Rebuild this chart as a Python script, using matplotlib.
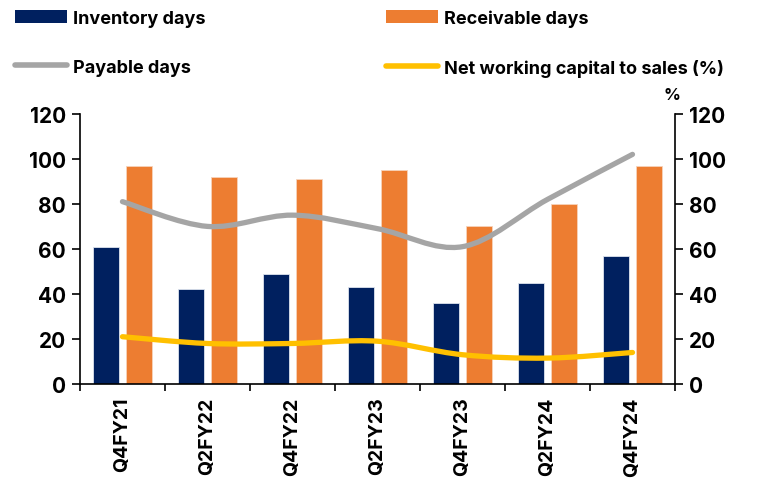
import numpy as np
import matplotlib
matplotlib.use("Agg")
import matplotlib.pyplot as plt
from matplotlib.path import Path
from matplotlib.patches import PathPatch, Patch
from matplotlib.lines import Line2D

# -----------------------------
# DATA
# -----------------------------
quarters = ["Q4FY21", "Q2FY22", "Q4FY22", "Q2FY23", "Q4FY23", "Q2FY24", "Q4FY24"]
inventory_days = [61, 42, 49, 43, 36, 45, 57]
receivable_days = [97, 92, 91, 95, 70, 80, 97]
payable_days = [81, 70, 75, 69, 61, 82, 102]
nwc_to_sales = [21, 18, 18, 19, 13, 11.5, 14]

NAVY = "#00205F"
ORANGE = "#ED7D31"
GRAY = "#A5A5A5"
YELLOW = "#FFC000"
HEAVY = "bold"

plt.rcParams["font.family"] = ["Inter", "DejaVu Sans"]
plt.rcParams["font.weight"] = HEAVY


def smooth_path(xs, ys):
    # Catmull-Rom style bezier through the points (like a spreadsheet "smoothed line")
    pts = np.column_stack([xs, ys]).astype(float)
    n = len(pts)
    verts = [pts[0]]
    codes = [Path.MOVETO]
    for i in range(n - 1):
        p0 = pts[i - 1] if i > 0 else pts[i]
        p1 = pts[i]
        p2 = pts[i + 1]
        p3 = pts[i + 2] if i + 2 < n else pts[i + 1]
        c1 = p1 + (p2 - p0) / 6.0
        c2 = p2 - (p3 - p1) / 6.0
        verts += [c1, c2, p2]
        codes += [Path.CURVE4] * 3
    return Path(verts, codes)


fig = plt.figure(figsize=(7.58, 4.85), dpi=100)
ax = fig.add_axes([0.1055, 0.2062, 0.785, 0.557])
ax2 = ax.twinx()

x = np.arange(len(quarters))
w = 0.30
ax.bar(x - 0.195, inventory_days, w, color=NAVY, edgecolor="#DDE3EE", linewidth=0.6)
ax.bar(x + 0.195, receivable_days, w, color=ORANGE, edgecolor="#F7D3BA", linewidth=0.6)

ax.add_patch(PathPatch(smooth_path(x, payable_days), fill=False,
                       edgecolor=GRAY, lw=3.8, capstyle="round", zorder=3))
ax2.add_patch(PathPatch(smooth_path(x, nwc_to_sales), fill=False,
                        edgecolor=YELLOW, lw=3.8, capstyle="round", zorder=3))

for a in (ax, ax2):
    a.set_ylim(0, 120)
    a.set_yticks(range(0, 121, 20))
    a.spines["top"].set_visible(False)
    a.tick_params(axis="y", labelsize=15, length=6, width=1.2, direction="out", pad=4)
ax.set_xlim(-0.5, len(quarters) - 0.5)
ax.spines["left"].set_linewidth(1.2)
ax2.spines["right"].set_linewidth(1.2)
ax.spines["bottom"].set_linewidth(1.2)
ax.spines["right"].set_visible(False)
ax2.spines["left"].set_visible(False)
ax2.spines["bottom"].set_visible(False)

ax.set_xticks(np.arange(-0.5, len(quarters), 1.0))
ax.set_xticklabels([])
ax.set_xticks(x, minor=True)
ax.set_xticklabels(quarters, minor=True, rotation=90, fontsize=14, fontweight=HEAVY)
ax.tick_params(axis="x", which="major", length=5, width=1.2, direction="out")
ax.tick_params(axis="x", which="minor", length=0, pad=9)

for lbl in ax.get_yticklabels() + ax2.get_yticklabels():
    lbl.set_fontweight(HEAVY)

fig.text(0.887, 0.803, "%", fontsize=12, fontweight=HEAVY, ha="center", va="center")

handles = [
    Patch(facecolor=NAVY, edgecolor="none"),
    Line2D([0], [0], color=GRAY, lw=4, solid_capstyle="round"),
    Patch(facecolor=ORANGE, edgecolor="none"),
    Line2D([0], [0], color=YELLOW, lw=4, solid_capstyle="round"),
]
labels = ["Inventory days", "Payable days", "Receivable days", "Net working capital to sales (%)"]
fig.legend(handles, labels, loc="upper left", bbox_to_anchor=(-0.002, 1.012), ncol=2,
           frameon=False, handlelength=2.9, handleheight=0.75,
           handletextpad=0.35, columnspacing=9.95, labelspacing=1.75,
           prop={"weight": HEAVY, "size": 13})

fig.savefig("out.png", dpi=100)
